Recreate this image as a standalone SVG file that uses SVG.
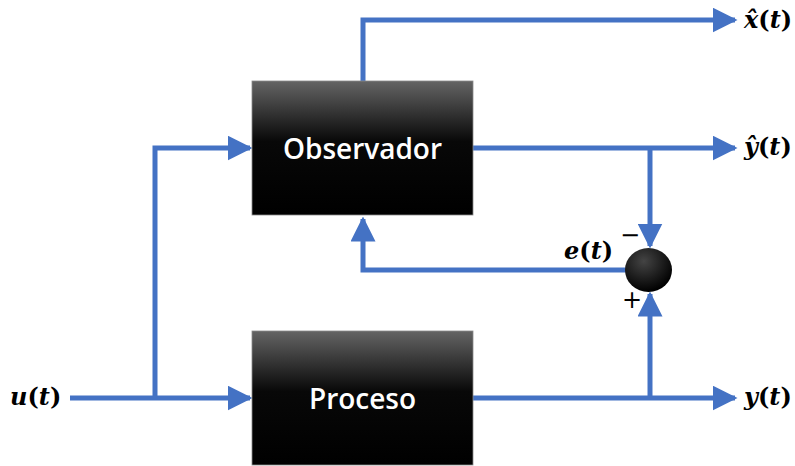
<svg xmlns="http://www.w3.org/2000/svg" width="795" height="466" viewBox="0 0 795 466">
<defs>
<linearGradient id="blk" x1="0" y1="0" x2="0" y2="1">
<stop offset="0" stop-color="#646464"/>
<stop offset="0.45" stop-color="#080808"/>
<stop offset="1" stop-color="#000000"/>
</linearGradient>
<radialGradient id="ball" cx="0.4" cy="0.3" r="0.7">
<stop offset="0" stop-color="#444"/>
<stop offset="1" stop-color="#000"/>
</radialGradient>
<marker id="ah" markerWidth="5" markerHeight="5" refX="4.5" refY="2.5" orient="auto" markerUnits="strokeWidth">
<path d="M0,0 L5,2.5 L0,5 z" fill="#4472C4"/>
</marker>
<style>
.ln{fill:none;stroke:#4472C4;stroke-width:5;}
.bx{fill:url(#blk);stroke:#8a8a8a;stroke-width:0.8;}
.bt{font-family:"Open Sans","Liberation Sans",sans-serif;font-weight:600;font-size:28px;fill:#fff;text-anchor:middle;}
.mt{font-family:"DejaVu Serif","Liberation Serif",serif;font-weight:bold;font-size:24px;fill:#000;}
.it{font-style:italic;}
.sg{font-family:"DejaVu Sans","Liberation Sans",sans-serif;font-size:24px;fill:#000;}
</style>
</defs>
<g id="connectors">
<path class="ln" d="M363,81 V20 H735" marker-end="url(#ah)"/>
<path class="ln" d="M473,148 H735" marker-end="url(#ah)"/>
<path class="ln" d="M650,148 V246" marker-end="url(#ah)"/>
<path class="ln" d="M626,270 H363 V219" marker-end="url(#ah)"/>
<path class="ln" d="M650,398 V294" marker-end="url(#ah)"/>
<path class="ln" d="M473,398 H735" marker-end="url(#ah)"/>
<path class="ln" d="M70,398 H250" marker-end="url(#ah)"/>
<path class="ln" d="M155,398 V148 H250" marker-end="url(#ah)"/>
</g>
<g id="observador">
<rect class="bx" x="252" y="81" width="221" height="134"/>
<text class="bt" x="362.5" y="159">Observador</text>
</g>
<g id="proceso">
<rect class="bx" x="252" y="331" width="221" height="134"/>
<text class="bt" x="362.5" y="409">Proceso</text>
</g>
<g id="sum">
<ellipse cx="648.5" cy="270" rx="23.5" ry="22" fill="url(#ball)"/>
<text class="sg" x="620" y="243">−</text>
<text class="sg" x="622" y="308">+</text>
</g>
<g id="labels">
<text class="mt" x="744" y="28"><tspan class="it">x̂</tspan>(<tspan class="it">t</tspan>)</text>
<text class="mt" x="744" y="155"><tspan class="it">ŷ</tspan>(<tspan class="it">t</tspan>)</text>
<text class="mt" x="744" y="405"><tspan class="it">y</tspan>(<tspan class="it">t</tspan>)</text>
<text class="mt" x="10" y="405"><tspan class="it">u</tspan>(<tspan class="it">t</tspan>)</text>
<text class="mt" x="564" y="259"><tspan class="it">e</tspan>(<tspan class="it">t</tspan>)</text>
</g>
</svg>
